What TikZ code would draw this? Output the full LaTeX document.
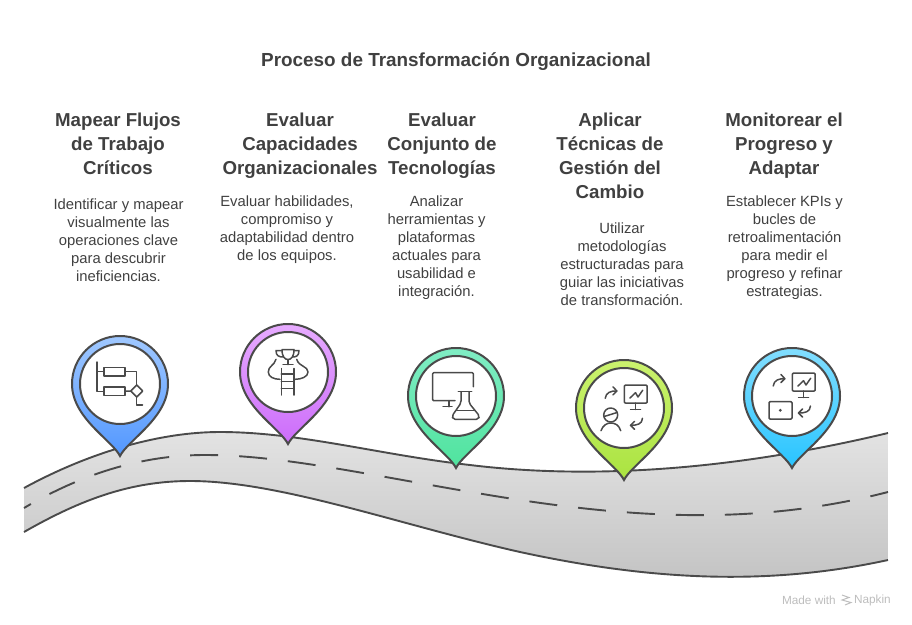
\documentclass[tikz,border=0pt]{standalone}
\usepackage{fontspec}
\setmainfont{Liberation Sans}
\definecolor{inkgray}{HTML}{404040}
\definecolor{linegray}{HTML}{4A4A4A}
\definecolor{marktext}{HTML}{BDBDBD}
\tikzset{
    headtext/.style={anchor=north, align=center, text=inkgray, font=\fontsize{18.7}{24}\selectfont\bfseries},
    bodytext/.style={anchor=north, align=center, text=inkgray, font=\fontsize{14.8}{18}\selectfont},
    marktextstyle/.style={anchor=east, text=marktext, font=\fontsize{11.8}{12}\selectfont},
    pinbody/.style={draw=linegray, line width=2pt},
    pinface/.style={circle, draw=linegray, line width=2pt, fill=white, minimum size=80pt, inner sep=0pt},
    iconline/.style={draw=linegray, line width=1.5pt, line join=round, line cap=round},
    roadedge/.style={draw=linegray, line width=1.9pt}
}
% pin with its white face: name, centre, top colour, bottom colour
\newcommand{\mappin}[4]{
    \begin{scope}[shift={(#2)}]
        \path[pinbody, top color=#3, bottom color=#4]
            (0,72) .. controls (-8,56) and (-48,34) .. (-48,0)
            arc[start angle=180, end angle=360, radius=48]
            .. controls (48,34) and (8,56) .. (0,72) -- cycle;
        \node[pinface] (#1) at (0,0) {};
    \end{scope}
}
% small screen with a chart
\newcommand{\chartscreen}{
    \draw[iconline, rounded corners=1pt] (0.3,-22.8) rectangle (23.2,-5);
    \draw[iconline] (11.5,-5) -- (11.5,1.5) (6.5,1.5) -- (16.5,1.5);
    \draw[iconline] (6,-10) -- (11.5,-15.3) -- (14,-11) -- (18.7,-17.8);
}
\newcommand{\turnarrows}[2]{
    \draw[iconline] (-18.8,#1) .. controls (-18,#1-6) and (-13,#1-7.5) .. (-7.2,#1-7.3);
    \draw[iconline] (-11,#1-11.5) -- (-7.2,#1-7.3) -- (-11,#1-3.5);
    \draw[iconline] (18.5,#2) .. controls (18,#2+6) and (13,#2+7) .. (6.5,#2+7);
    \draw[iconline] (10.5,#2+3) -- (6.5,#2+7) -- (10.5,#2+11);
}
\begin{document}
\begin{tikzpicture}[x=1pt, y=-1pt]
    \useasboundingbox (0,0) rectangle (912,624);

    \node[text=inkgray, font=\fontsize{18.9}{24}\selectfont\bfseries] (title) at (456,62) {Proceso de Transformación Organizacional};

    % road
    \path[top color=black!11, bottom color=black!24, shading angle=0]
        (24,488) .. controls (90,452) and (160,432) .. (220,432)
        .. controls (300,432) and (380,455) .. (470,465)
        .. controls (560,476) and (700,478) .. (888,433)
        -- (888,560) .. controls (760,588) and (640,578) .. (520,552)
        .. controls (400,525) and (280,481) .. (190,481)
        .. controls (130,481) and (80,500) .. (24,532) -- cycle;
    \draw[roadedge] (24,488) .. controls (90,452) and (160,432) .. (220,432)
        .. controls (300,432) and (380,455) .. (470,465)
        .. controls (560,476) and (700,478) .. (888,433);
    \draw[roadedge] (24,532) .. controls (80,500) and (130,481) .. (190,481)
        .. controls (280,481) and (400,525) .. (520,552)
        .. controls (640,578) and (760,588) .. (888,560);
    \draw[roadedge, dash pattern=on 28pt off 21pt, dash phase=20pt] (24,508) .. controls (80,475) and (140,455) .. (205,455)
        .. controls (290,455) and (390,480) .. (520,500)
        .. controls (640,518) and (760,525) .. (888,492);

    % pins
    \definecolor{pinblueA}{HTML}{A0C8FF}\definecolor{pinblueB}{HTML}{5297FF}
    \definecolor{pinvioletA}{HTML}{E7ABFF}\definecolor{pinvioletB}{HTML}{CC6CFA}
    \definecolor{pingreenA}{HTML}{80EDC4}\definecolor{pingreenB}{HTML}{4FE39E}
    \definecolor{pinlimeA}{HTML}{CBF26E}\definecolor{pinlimeB}{HTML}{AAE340}
    \definecolor{pincyanA}{HTML}{82DEFF}\definecolor{pincyanB}{HTML}{28C4FF}
    \mappin{flujos}{120,384}{pinblueA}{pinblueB}
    \mappin{capacidades}{288,372}{pinvioletA}{pinvioletB}
    \mappin{tecnologias}{456,396}{pingreenA}{pingreenB}
    \mappin{cambio}{624,408}{pinlimeA}{pinlimeB}
    \mappin{progreso}{792,396}{pincyanA}{pincyanB}

    % icons
    \begin{scope}[shift={(120,384)}]
        \draw[iconline] (-23,-22) -- (-23,7.5) -- (-16,7.5);
        \draw[iconline] (-23,-12.3) -- (-16,-12.3);
        \draw[iconline] (-16,-16.5) rectangle (5,-8);
        \draw[iconline] (-16,3) rectangle (5,11.5);
        \draw[iconline] (5,-12.3) -- (16.7,-12.3) -- (16.7,1);
        \draw[iconline] (5,7) -- (10.7,7) -- (16.7,1) -- (22.7,7) -- (16.7,13) -- (10.7,7);
        \draw[iconline] (16.7,13) -- (16.7,21) -- (22.5,21);
    \end{scope}
    \begin{scope}[shift={(288,372)}]
        \draw[iconline] (-6.7,-3.5) -- (-6.7,23) (6,-3.5) -- (6,23);
        \draw[iconline] (-6.7,2) -- (6,2) (-6.7,9.5) -- (6,9.5) (-6.7,16.5) -- (6,16.5);
        \draw[iconline] (-6,-22.5) -- (6,-22.5) .. controls (6,-15) and (3,-12.5) .. (0,-12.5) .. controls (-3,-12.5) and (-6,-15) .. (-6,-22.5);
        \draw[iconline] (-6,-21.5) -- (-12,-21.5) .. controls (-12,-16) and (-9,-15) .. (-4.5,-15);
        \draw[iconline] (6,-21.5) -- (11,-21.5) .. controls (11,-16) and (8,-15) .. (4.5,-15);
        \draw[iconline] (0,-12.5) -- (0,-7.5) (-5,-7.5) -- (5,-7.5);
        \draw[iconline] (-12,-12.7) .. controls (-14,-6) and (-19.7,-6) .. (-19.7,0) .. controls (-19.7,5) and (-14,7.3) .. (-8,7.3);
        \draw[iconline] (8.7,-12.7) .. controls (11,-5) and (20,-6) .. (20,0) .. controls (20,5) and (13,7.3) .. (7,7.3);
    \end{scope}
    \begin{scope}[shift={(456,396)}]
        \draw[iconline, rounded corners=1pt] (17.3,-9.3) -- (17.3,-23.3) -- (-23.3,-23.3) -- (-23.3,4.7) -- (-1,4.7);
        \draw[iconline] (-7,4.7) -- (-7,10.7) (-13,10.7) -- (-4,10.7);
        \draw[iconline] (2.3,-4.3) -- (15.7,-4.3);
        \draw[iconline, rounded corners=2pt] (5,-4.3) -- (5,7) -- (-4,20) -- (-3,23.3) -- (22.5,23.3) -- (23.5,20) -- (13,7) -- (13,-4.3);
        \draw[iconline] (0.7,14.7) -- (19,14.7);
    \end{scope}
    \begin{scope}[shift={(624,408)}]
        \chartscreen
        \turnarrows{-9.7}{10.3}
        \draw[iconline] (-13.3,7) circle[radius=7];
        \draw[iconline] (-19.8,8.5) -- (-7,4.5);
        \draw[iconline] (-23,22.7) .. controls (-21,17) and (-17,15) .. (-13.3,15) .. controls (-9,15) and (-5,17) .. (-3.3,22.7);
    \end{scope}
    \begin{scope}[shift={(792,396)}]
        \chartscreen
        \turnarrows{-10}{10}
        \draw[iconline, rounded corners=1pt] (-23,5.7) rectangle (0,23);
        \fill[linegray] (-11.7,14.3) circle[radius=1.6];
    \end{scope}

    % headings
    \node[headtext] (head1) at (118,109.5) {Mapear Flujos\\de Trabajo\\Críticos};
    \node[headtext] (head2) at (300,109.5) {Evaluar\\Capacidades\\Organizacionales};
    \node[headtext] (head3) at (442,109.5) {Evaluar\\Conjunto de\\Tecnologías};
    \node[headtext] (head4) at (610,109.5) {Aplicar\\Técnicas de\\Gestión del\\Cambio};
    \node[headtext] (head5) at (784,109.5) {Monitorear el\\Progreso y\\Adaptar};

    % descriptions
    \node[bodytext] (body1) at (118.5,195.5) {Identificar y mapear\\visualmente las\\operaciones clave\\para descubrir\\ineficiencias.};
    \node[bodytext] (body2) at (287,192.5) {Evaluar habilidades,\\compromiso y\\adaptabilidad dentro\\de los equipos.};
    \node[bodytext] (body3) at (436.5,192.5) {Analizar\\herramientas y\\plataformas\\actuales para\\usabilidad e\\integración.};
    \node[bodytext] (body4) at (622,219.5) {Utilizar\\metodologías\\estructuradas para\\guiar las iniciativas\\de transformación.};
    \node[bodytext] (body5) at (784.5,192.5) {Establecer KPIs y\\bucles de\\retroalimentación\\para medir el\\progreso y refinar\\estrategias.};

    % mark
    \node[marktextstyle, inner sep=0pt] (napkin) at (891,600) {Napkin};
    \node[marktextstyle, inner sep=0pt] (made) at (836,600) {Made with};
    \draw[marktext, line width=1pt] (842,595) -- (849,597.5) -- (842,600) -- (851,602.5) -- (845,605);
\end{tikzpicture}
\end{document}
